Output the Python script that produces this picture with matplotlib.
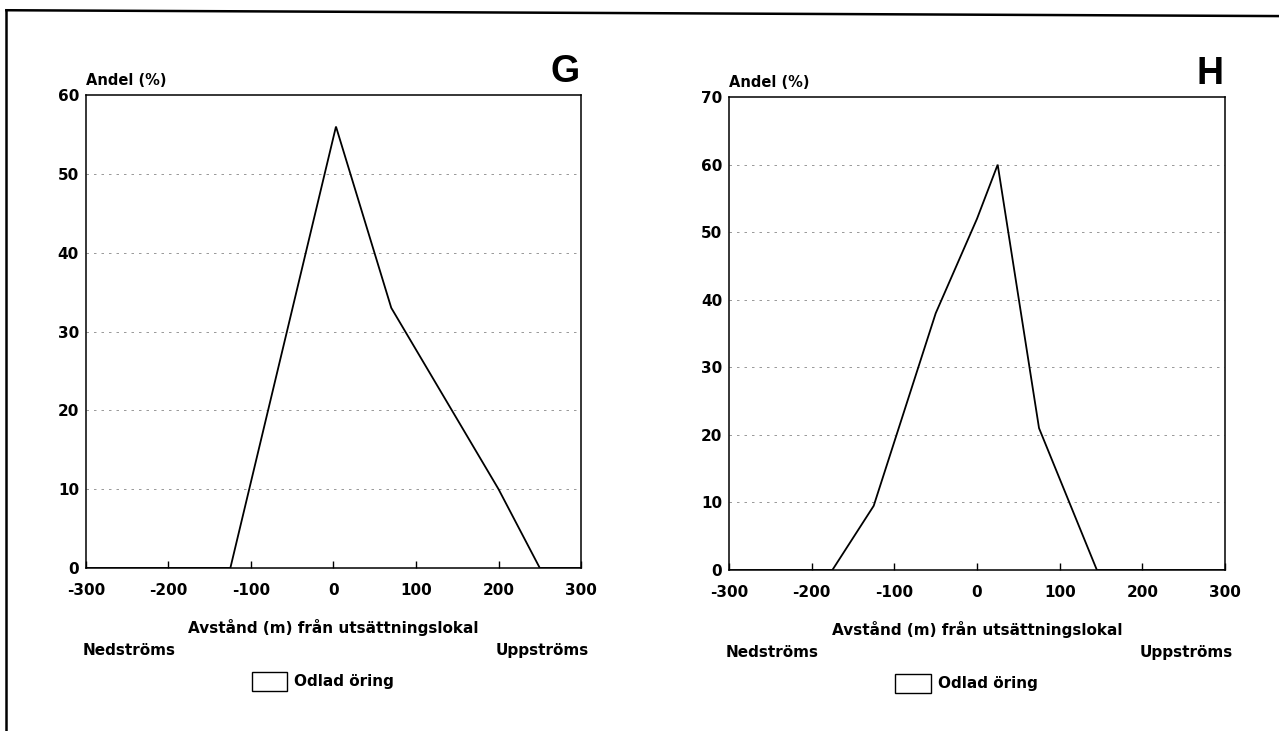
import matplotlib.pyplot as plt
from matplotlib.patches import Rectangle
from matplotlib.lines import Line2D

plt.rcParams['font.family'] = ['DejaVu Sans']
plt.rcParams['font.weight'] = 'bold'
plt.rcParams['axes.unicode_minus'] = False

# panel G
g_x = [-300, -125, 3, 70, 200, 250, 300]
g_y = [0, 0, 56, 33, 10, 0, 0]
# panel H
h_x = [-300, -175, -125, -50, 0, 25, 75, 145, 300]
h_y = [0, 0, 9.5, 38, 52, 60, 21, 0, 0]

xticks = [-300, -200, -100, 0, 100, 200, 300]
g_yticks = [0, 10, 20, 30, 40, 50, 60]
h_yticks = [0, 10, 20, 30, 40, 50, 60, 70]

fig = plt.figure(figsize=(12.79, 7.31), dpi=100)

# outer frame (top and left only)
fig.add_artist(Line2D([0.005, 1.0], [0.986, 0.978], color='black', lw=1.8))
fig.add_artist(Line2D([0.005, 0.005], [0.986, 0.0], color='black', lw=1.8))


def panel(rect, xs, ys, yticks, letter):
    ax = fig.add_axes(rect)
    ax.plot(xs, ys, color='black', lw=1.3, solid_joinstyle='miter')
    ax.set_xlim(-300, 300)
    ax.set_ylim(0, yticks[-1])
    ax.set_xticks(xticks)
    ax.set_yticks(yticks)
    for t in yticks[1:-1]:
        ax.axhline(t, color='#888888', lw=0.6, ls=(0, (3, 6)), zorder=0)
    ax.tick_params(axis='x', direction='in', length=5, width=1, labelsize=11, pad=11)
    ax.tick_params(axis='y', length=0, labelsize=11, pad=5)
    for s in ax.spines.values():
        s.set_linewidth(1.1)
    ax.text(0.0, 1.022, 'Andel (%)', transform=ax.transAxes, fontsize=10.5,
            ha='left', va='baseline')
    ax.text(0.997, 1.027, letter, transform=ax.transAxes, fontsize=27,
            family='Liberation Sans', fontweight='bold', ha='right', va='baseline')
    ax.text(0.5, -0.125, 'Avstånd (m) från utsättningslokal', transform=ax.transAxes,
            fontsize=11, ha='center', va='center')
    ax.text(-0.006, -0.175, 'Nedströms', transform=ax.transAxes, fontsize=11,
            ha='left', va='center')
    ax.text(1.016, -0.175, 'Uppströms', transform=ax.transAxes, fontsize=11,
            ha='right', va='center')
    ax.add_patch(Rectangle((0.335, -0.26), 0.072, 0.04, transform=ax.transAxes,
                           facecolor='white', edgecolor='black', lw=1.0, clip_on=False))
    ax.text(0.421, -0.24, 'Odlad öring', transform=ax.transAxes,
            fontsize=11, ha='left', va='center')
    return ax


panel([0.0672, 0.2230, 0.3871, 0.6470], g_x, g_y, g_yticks, 'G')
panel([0.5700, 0.2202, 0.3878, 0.6470], h_x, h_y, h_yticks, 'H')

fig.savefig('out.png', dpi=100)
